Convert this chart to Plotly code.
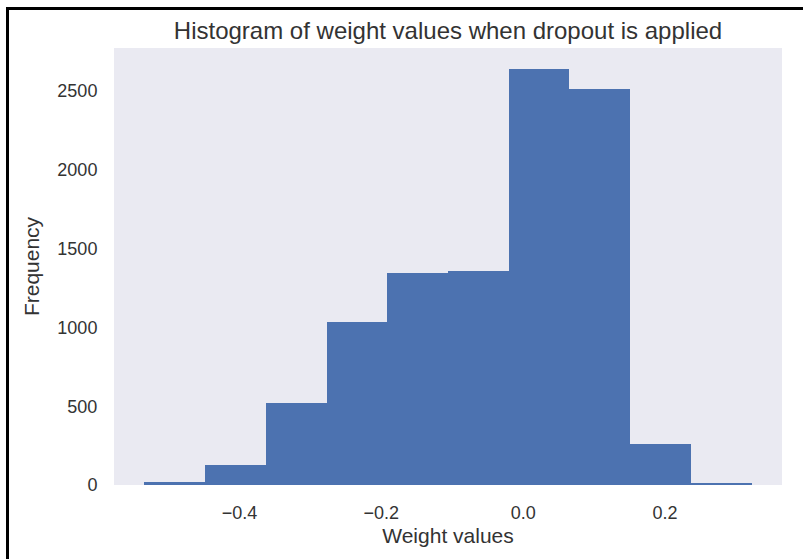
import plotly.graph_objects as go

# Histogram counts for the 10 equal-width bins
counts = [22, 130, 522, 1035, 1348, 1360, 2642, 2512, 260, 8]
bin_start = -0.534
bin_end = 0.322

x_tickvals = [-0.4, -0.2, 0.0, 0.2]
x_ticktext = ["\u22120.4", "\u22120.2", "0.0", "0.2"]
y_tickvals = [0, 500, 1000, 1500, 2000, 2500]

n_bins = len(counts)
bin_width = (bin_end - bin_start) / n_bins
centers = [bin_start + bin_width * (i + 0.5) for i in range(n_bins)]

# matplotlib-style 5% margins on x, 5% headroom on y
span = bin_end - bin_start
x_range = [bin_start - 0.05 * span, bin_end + 0.05 * span]
y_range = [0, max(counts) * 1.05]

FONT = "Liberation Sans, Arial, sans-serif"
TEXT = "#333333"

fig = go.Figure(
    go.Bar(
        x=centers,
        y=counts,
        width=bin_width,
        marker=dict(color="#4C72B0", line=dict(width=0)),
        hoverinfo="x+y",
    )
)

# figure geometry (pixels)
W, H = 803, 559
L, R, T, B = 114, 21, 48, 74
pw, ph = W - L - R, H - T - B

def px_x(p):
    return (p - L) / pw

def px_y(p):
    return (H - B - p) / ph

fig.update_layout(
    width=W,
    height=H,
    margin=dict(l=L, r=R, t=T, b=B),
    paper_bgcolor="white",
    plot_bgcolor="#EAEAF2",
    bargap=0,
    showlegend=False,
    font=dict(family=FONT, color=TEXT, size=18),
    title=dict(
        text="Histogram of weight values when dropout is applied",
        x=0.5 * (L + W - R) / W,
        xanchor="center",
        y=1 - 31 / H,
        yanchor="middle",
        font=dict(size=24, color=TEXT, family=FONT),
    ),
    xaxis=dict(
        range=x_range,
        tickvals=x_tickvals,
        ticktext=x_ticktext,
        showgrid=False,
        zeroline=False,
        showline=False,
        ticks="outside",
        ticklen=11,
        tickcolor="rgba(0,0,0,0)",
        tickfont=dict(size=18),
        title=dict(text="Weight values", font=dict(size=21), standoff=6),
    ),
    yaxis=dict(
        range=y_range,
        tickvals=y_tickvals,
        showgrid=False,
        zeroline=False,
        showline=False,
        ticks="outside",
        ticklen=12,
        tickcolor="rgba(0,0,0,0)",
        tickfont=dict(size=18),
        title=dict(text="Frequency", font=dict(size=21), standoff=12),
    ),
    shapes=[
        # black frame along the top and left edges of the canvas
        dict(type="line", xref="paper", yref="paper",
             x0=px_x(7.5), x1=px_x(W + 5), y0=px_y(8.5), y1=px_y(8.5),
             line=dict(color="black", width=3)),
        dict(type="line", xref="paper", yref="paper",
             x0=px_x(7.5), x1=px_x(7.5), y0=px_y(7), y1=px_y(H + 5),
             line=dict(color="black", width=3)),
    ],
)

fig.write_html("out.html")
